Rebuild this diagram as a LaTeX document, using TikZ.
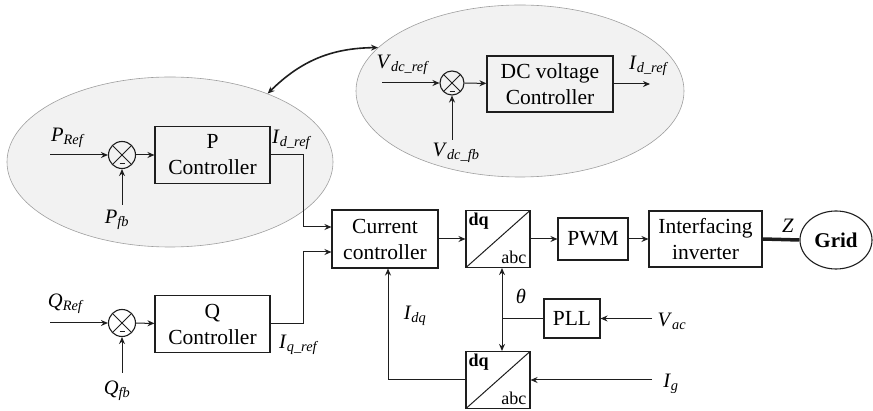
\documentclass[tikz,border=0pt]{standalone}
\usepackage{fontspec}
\setmainfont{Liberation Serif}
\usetikzlibrary{arrows.meta,positioning,calc,shapes.geometric}
\definecolor{zonegray}{HTML}{F2F2F2}
\definecolor{inkgray}{HTML}{1E1E1E}
\newcommand{\sig}[2]{\textit{#1}\textsubscript{\textit{#2}}}

\begin{document}
\begin{tikzpicture}[
    x=1pt, y=1pt,
    font=\fontsize{21.5}{26}\selectfont,
    >={Stealth[length=7pt, width=6pt]},
    zone/.style={ellipse, draw=gray!75, fill=zonegray, line width=0.6pt},
    block/.style={draw=inkgray, line width=1.1pt, align=center, inner sep=0pt},
    sumnode/.style={circle, draw=inkgray, line width=1.1pt, minimum size=27pt, inner sep=0pt,
        path picture={
            \draw[inkgray, line width=1pt] (path picture bounding box.north west) -- (path picture bounding box.south east)
                (path picture bounding box.north east) -- (path picture bounding box.south west);
            \draw[inkgray, line width=1.2pt] ([shift={(-2.5pt,-8.5pt)}]path picture bounding box.center) -- ++(5pt,0);
        }},
    conv/.style={block, minimum width=64pt, minimum height=57pt,
        path picture={
            \draw[inkgray, line width=1pt] (path picture bounding box.south west) -- (path picture bounding box.north east);
        }},
    convtop/.style={font=\fontsize{18}{20}\selectfont\bfseries, anchor=north west, inner sep=3pt},
    convbot/.style={font=\fontsize{18}{20}\selectfont, anchor=south east, inner sep=4pt},
    siglabel/.style={font=\fontsize{20.5}{22}\selectfont, inner sep=1pt},
    arrow/.style={inkgray, ->, line width=1pt},
    line/.style={inkgray, line width=1pt},
]
    \useasboundingbox (0,0) rectangle (873,-411);

    % =====================================================================
    % CONTROL ZONES (shaded ellipses)
    % =====================================================================
    \node[zone, minimum width=326pt, minimum height=170pt] (pzone) at (170,-162) {};
    \node[zone, minimum width=328pt, minimum height=172pt] (vzone) at (520,-91) {};
    \draw[inkgray, <->, line width=1.6pt] (pzone.35) to[bend left=22] (vzone.163);

    % =====================================================================
    % P LOOP
    % =====================================================================
    \node[sumnode] (psum) at (122,-155) {};
    \node[block, minimum width=115pt, minimum height=57pt] (pctrl) at (212.5,-155) {P\\Controller};
    \coordinate (pin) at (50,-155);
    \coordinate (pfbin) at (122,-205);
    \node[siglabel] (preflbl) at (68,-138) {\sig{P}{Ref}};
    \node[siglabel] (pfblbl) at (117,-220) {\sig{P}{fb}};
    \draw[arrow] (pin) -- (psum.west);
    \draw[arrow] (pfbin) -- (psum.south);
    \draw[arrow] (psum) -- (pctrl);

    % =====================================================================
    % DC VOLTAGE LOOP
    % =====================================================================
    \node[sumnode, minimum size=24pt] (vsum) at (452,-83) {};
    \node[block, minimum width=126pt, minimum height=56pt] (vctrl) at (550,-84) {DC voltage\\Controller};
    \coordinate (vin) at (382,-83);
    \coordinate (vfbin) at (452,-140);
    \coordinate (vout) at (650,-84);
    \node[siglabel] (vreflbl) at (403,-65) {\sig{V}{dc\_ref}};
    \node[siglabel] (vfblbl) at (456,-153) {\sig{V}{dc\_fb}};
    \node[siglabel] (idref2lbl) at (649,-66) {\sig{I}{d\_ref}};
    \draw[arrow] (vin) -- (vsum.west);
    \draw[arrow] (vfbin) -- (vsum.south);
    \draw[arrow] (vsum) -- (vctrl);
    \draw[arrow] (vctrl.east) -- (vout);

    % =====================================================================
    % Q LOOP
    % =====================================================================
    \node[sumnode] (qsum) at (122,-323) {};
    \node[block, minimum width=115pt, minimum height=57pt] (qctrl) at (212.5,-324) {Q\\Controller};
    \coordinate (qin) at (50,-323);
    \coordinate (qfbin) at (122,-373);
    \node[siglabel] (qreflbl) at (66,-304) {\sig{Q}{Ref}};
    \node[siglabel] (qfblbl) at (117,-391) {\sig{Q}{fb}};
    \draw[arrow] (qin) -- (qsum.west);
    \draw[arrow] (qfbin) -- (qsum.south);
    \draw[arrow] (qsum) -- (qctrl);

    % =====================================================================
    % CURRENT CONTROL AND INVERTER CHAIN
    % =====================================================================
    \node[block, minimum width=106pt, minimum height=58pt] (current) at (385,-239) {Current\\controller};
    \node[conv] (dq1) at (498,-239) {};
    \node[convtop] (dq1top) at (dq1.north west) {dq};
    \node[convbot] (dq1bot) at (dq1.south east) {abc};
    \node[block, minimum width=70pt, minimum height=42pt] (pwm) at (593,-239) {PWM};
    \node[block, minimum width=113pt, minimum height=56pt] (inv) at (705.5,-239) {Interfacing\\inverter};
    \node[ellipse, draw=inkgray, line width=1.1pt, minimum width=72pt, minimum height=58pt, inner sep=0pt,
          font=\fontsize{21}{24}\selectfont\bfseries] (grid) at (836,-240) {Grid};

    \draw[arrow] (pctrl.east) -- ++(33,0) |- ([yshift=12pt]current.west);
    \draw[arrow] (qctrl.east) -- ++(33,0) |- ([yshift=-13pt]current.west);
    \node[siglabel] (idreflbl) at (292,-140) {\sig{I}{d\_ref}};
    \node[siglabel] (iqreflbl) at (299,-345) {\sig{I}{q\_ref}};

    \draw[arrow] (current) -- (dq1);
    \draw[arrow] (dq1) -- (pwm);
    \draw[arrow] (pwm) -- (inv);
    \draw[inkgray, line width=3.5pt] (inv.east) -- (grid.west);
    \node[siglabel] (zlbl) at (788,-226) {\textit{Z}};

    % =====================================================================
    % PLL AND FEEDBACK TRANSFORM
    % =====================================================================
    \node[block, minimum width=56pt, minimum height=39pt] (pll) at (572,-318.5) {PLL};
    \node[conv] (dq2) at (498,-380) {};
    \node[convtop] (dq2top) at (dq2.north west) {dq};
    \node[convbot] (dq2bot) at (dq2.south east) {abc};
    \coordinate (vacin) at (652,-318.5);
    \coordinate (thetaj) at (502,-318.5);
    \coordinate (igin) at (652,-380);
    \node[siglabel] (vaclbl) at (672,-321) {\sig{V}{ac}};
    \node[siglabel] (iglbl) at (671,-384) {\sig{I}{g}};
    \node[siglabel] (thetalbl) at (521,-296) {\textit{θ}};
    \node[siglabel] (idqlbl) at (415,-316) {\sig{I}{dq}};

    \draw[arrow] (vacin) -- (pll.east);
    \draw[line] (pll.west) -- (thetaj);
    \draw[arrow] (thetaj) -- (thetaj |- dq1.south);
    \draw[arrow] (thetaj) -- (thetaj |- dq2.north);
    \draw[arrow] (igin) -- (dq2.east);
    \draw[arrow] (dq2.west) -| ([xshift=3pt]current.south);

\end{tikzpicture}
\end{document}
